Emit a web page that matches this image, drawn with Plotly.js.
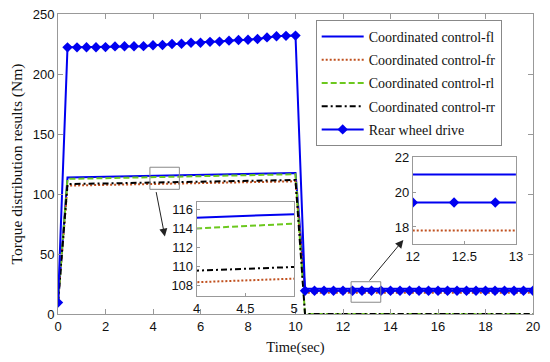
<!DOCTYPE html>
<html>
<head>
<meta charset="utf-8">
<script src="https://cdn.plot.ly/plotly-3.0.1.min.js"></script>
<style>html,body{margin:0;padding:0;background:#fff;}#chart{width:550px;height:362px;}</style>
</head>
<body>
<div id="chart"></div>
<script>
// Time samples (s) for rear wheel drive
const time = [0, 0.4, 0.8, 1.2, 1.6, 2.0, 2.4, 2.8, 3.2, 3.6, 4.0, 4.4, 4.8, 5.2, 5.6, 6.0, 6.4, 6.8, 7.2, 7.6, 8.0, 8.4, 8.8, 9.2, 9.6, 10.0,
  10.4, 10.8, 11.2, 11.6, 12.0, 12.4, 12.8, 13.2, 13.6, 14.0, 14.4, 14.8, 15.2, 15.6, 16.0, 16.4, 16.8, 17.2, 17.6, 18.0, 18.4, 18.8, 19.2, 19.6, 20.0];
const rearWheelDrive = [9.5, 222.2, 222.2, 222.3, 222.3, 222.4, 223.0, 223.1, 223.1, 223.2, 224.0, 224.2, 225.0, 225.2, 226.0, 226.1, 226.8, 227.0, 227.8, 228.3, 228.6, 229.2, 230.5, 231.5, 231.8, 232.0,
  19.4, 19.4, 19.4, 19.4, 19.4, 19.4, 19.4, 19.4, 19.4, 19.4, 19.4, 19.4, 19.4, 19.4, 19.4, 19.4, 19.4, 19.4, 19.4, 19.4, 19.4, 19.4, 19.4, 19.4, 19.4];

// Time samples (s) for coordinated control
const timeCoord = [0, 0.4, 2, 4, 5, 6, 8, 10, 10.4, 12, 13, 16, 20];
const ccFL = [9.5, 113.8, 114.4, 115.1, 115.5, 115.9, 116.7, 117.5, 21.0, 21.0, 21.0, 21.0, 21.0];
const ccFR = [9.5, 107.0, 107.6, 108.35, 108.75, 109.1, 109.9, 110.6, 17.8, 17.8, 17.8, 17.8, 17.8];
const ccRL = [9.5, 112.6, 113.2, 114.0, 114.5, 114.9, 115.7, 116.5, 0, 0, 0, 0, 0];
const ccRR = [9.5, 108.3, 108.8, 109.6, 109.95, 110.3, 111.0, 111.7, 0, 0, 0, 0, 0];

const names = ['Coordinated control-fl', 'Coordinated control-fr', 'Coordinated control-rl', 'Coordinated control-rr', 'Rear wheel drive'];
const xTicks = [0, 2, 4, 6, 8, 10, 12, 14, 16, 18, 20];
const yTicks = [0, 50, 100, 150, 200, 250];
const inset1XTicks = [4, 4.5, 5];
const inset1YTicks = [108, 110, 112, 114, 116];
const inset2XTicks = [12, 12.5, 13];
const inset2YTicks = [18, 20, 22];

const BLUE = '#0000f0';
const styles = [
  {color: BLUE, width: 2, dash: 'solid'},
  {color: '#c0501e', width: 2, dash: '2px,2px'},
  {color: '#6cc81e', width: 2, dash: '6px,3px'},
  {color: '#000000', width: 2, dash: '6px,3px,2px,3px'}
];
const coordSeries = [ccFL, ccFR, ccRL, ccRR];

const traces = [];
function addSet(xa, ya, legend, include) {
  coordSeries.forEach((s, i) => {
    if (!include.includes(i)) return;
    traces.push({x: timeCoord, y: s, type: 'scatter', mode: 'lines', name: names[i],
      xaxis: xa, yaxis: ya, showlegend: legend, legendgroup: 'g' + i, line: styles[i], cliponaxis: true});
  });
  if (include.includes(4)) {
    traces.push({x: time, y: rearWheelDrive, type: 'scatter', mode: 'lines+markers', name: names[4],
      xaxis: xa, yaxis: ya, showlegend: legend, legendgroup: 'g4',
      line: {color: BLUE, width: 2}, marker: {symbol: 'diamond', size: 8, color: BLUE}});
  }
}
addSet('x', 'y', true, [0, 1, 2, 3, 4]);
addSet('x2', 'y2', false, [0, 1, 2, 3]);
addSet('x3', 'y3', false, [0, 1, 4]);

const sans = 'Liberation Sans, Arial, sans-serif';
const serif = 'Liberation Serif, Times New Roman, serif';
const axCommon = {showline: true, mirror: 'ticks', linecolor: '#999', linewidth: 1, ticks: 'inside', ticklen: 5,
  tickcolor: '#999', showgrid: false, zeroline: false, tickfont: {family: sans, size: 13, color: '#111'}};
const insetCommon = Object.assign({}, axCommon, {ticklen: 3, mirror: true});

const layout = {
  width: 550, height: 362,
  margin: {l: 58, r: 17, t: 14, b: 48},
  paper_bgcolor: '#fff', plot_bgcolor: '#fff',
  showlegend: true,
  xaxis: Object.assign({}, axCommon, {range: [0, 20], tickvals: xTicks, domain: [0, 1], anchor: 'y',
    title: {text: 'Time(sec)', font: {family: serif, size: 14.5, color: '#111'}, standoff: 9}}),
  yaxis: Object.assign({}, axCommon, {range: [0, 250], tickvals: yTicks, domain: [0, 1], anchor: 'x',
    title: {text: 'Torque distribution results (Nm)', font: {family: serif, size: 15.5, color: '#111'}, standoff: 6}}),
  xaxis2: Object.assign({}, insetCommon, {range: [4, 5], tickvals: inset1XTicks, domain: [0.292, 0.497], anchor: 'y2'}),
  yaxis2: Object.assign({}, insetCommon, {range: [106.9, 116.8], tickvals: inset1YTicks, domain: [0.06, 0.374], anchor: 'x2'}),
  xaxis3: Object.assign({}, insetCommon, {range: [12, 13], tickvals: inset2XTicks, domain: [0.747, 0.964], anchor: 'y3'}),
  yaxis3: Object.assign({}, insetCommon, {range: [17, 22], tickvals: inset2YTicks, domain: [0.232, 0.523], anchor: 'x3'}),
  legend: {x: 0.5425, y: 0.98, xanchor: 'left', yanchor: 'top', bgcolor: '#fff', bordercolor: '#888', borderwidth: 1,
    font: {family: serif, size: 14, color: '#111'}, traceorder: 'grouped', tracegroupgap: 2, itemwidth: 42},
  shapes: [
    {type: 'rect', xref: 'x', yref: 'y', x0: 3.87, x1: 5.11, y0: 103.9, y1: 122.3, line: {color: '#888', width: 1}},
    {type: 'rect', xref: 'x', yref: 'y', x0: 12.34, x1: 13.59, y0: 9.8, y1: 26.9, line: {color: '#888', width: 1}}
  ],
  annotations: [
    {x: 4.5, y: 64.5, xref: 'x', yref: 'y', ax: -9, ay: -46, text: '', showarrow: true, arrowhead: 2, arrowsize: 1.6, arrowwidth: 1, arrowcolor: '#222'},
    {x: 14.54, y: 61.7, xref: 'x', yref: 'y', ax: -35, ay: 42, text: '', showarrow: true, arrowhead: 2, arrowsize: 1.6, arrowwidth: 1, arrowcolor: '#222'}
  ]
};

Plotly.newPlot('chart', traces, layout, {displayModeBar: false, staticPlot: true});
</script>
</body>
</html>
